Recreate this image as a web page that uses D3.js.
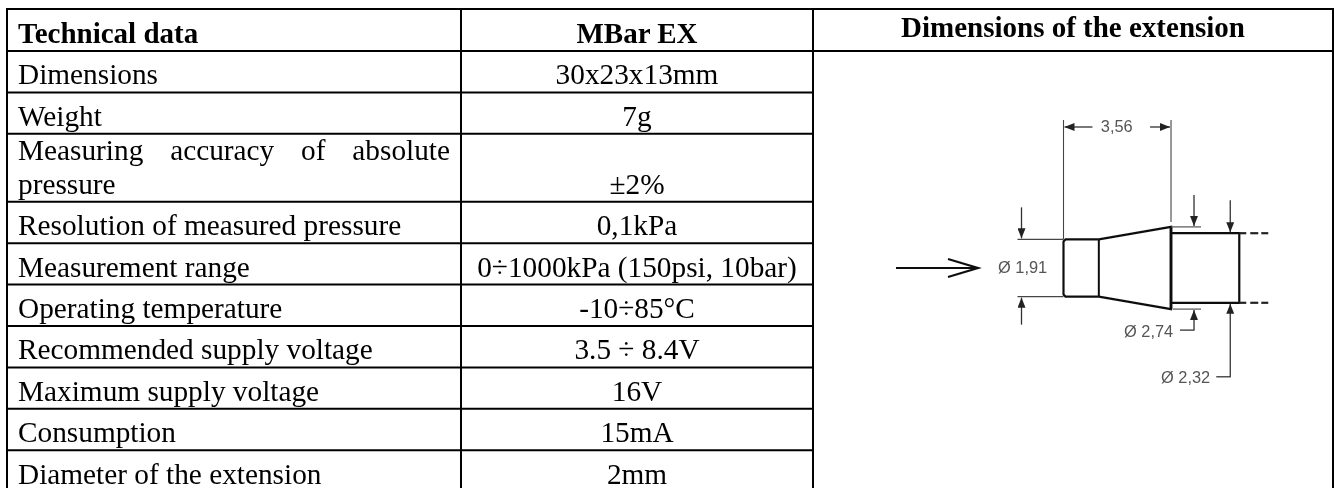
<!DOCTYPE html>
<html>
<head>
<meta charset="utf-8">
<script src="https://cdn.jsdelivr.net/npm/d3@7"></script>
<style>
html, body { margin: 0; padding: 0; background: #fff; overflow: hidden; }
svg { display: block; }
text { font-family: "Liberation Serif", serif; fill: #000; }
.dim { font-family: "Liberation Sans", sans-serif; font-size: 16.4px; fill: #555; }
</style>
</head>
<body>
<div id="chart"></div>
<script>
// table content
var headers = ["Technical data", "MBar EX", "Dimensions of the extension"];
var labels = ["Dimensions", "Weight", "Measuring accuracy of absolute|pressure",
    "Resolution of measured pressure", "Measurement range", "Operating temperature",
    "Recommended supply voltage", "Maximum supply voltage", "Consumption", "Diameter of the extension"];
var values = ["30x23x13mm", "7g", "±2%", "0,1kPa", "0÷1000kPa (150psi, 10bar)", "-10÷85°C",
    "3.5 ÷ 8.4V", "16V", "15mA", "2mm"];

// drawing dimensions, mm
var tipDiameter = 1.91;
var coneDiameter = 2.74;
var barrelDiameter = 2.32;
var coneLength = 3.56;
var tipLength = 1.17;
var barrelEnd = 5.82;

var width = 1334, height = 488;
var left = 7, col1 = 461, col2 = 813, right = 1333, top0 = 9;
var fontSize = 29.3, headSize = 29, lineH = 34;

var svg = d3.select("#chart").append("svg").attr("width", width).attr("height", height);

var defs = svg.append("defs");
defs.append("filter").attr("id", "soft").append("feGaussianBlur").attr("stdDeviation", 0.45);
defs.append("filter").attr("id", "softer").append("feGaussianBlur").attr("stdDeviation", 0.25);
defs.append("marker").attr("id", "head").attr("viewBox", "0 0 10 8").attr("refX", 10).attr("refY", 4)
    .attr("markerUnits", "userSpaceOnUse").attr("markerWidth", 10).attr("markerHeight", 8)
    .attr("orient", "auto")
    .append("path").attr("d", "M0,0L10,4L0,8Z").attr("fill", "#222");

// row bottoms
var rowY = [top0 + 42];
labels.forEach(function(l) {
    var n = l.split("|").length;
    rowY.push(rowY[rowY.length - 1] + (n == 2 ? 68 : 41.4));
});

var table = svg.append("g").attr("filter", "url(#softer)");
function line(g, x1, y1, x2, y2, w, c) {
    return g.append("line").attr("x1", x1).attr("y1", y1).attr("x2", x2).attr("y2", y2)
        .attr("stroke", c || "#000").attr("stroke-width", w);
}

// grid
line(table, left - 1, top0, right + 1, top0, 2);
line(table, left - 1, rowY[0], right + 1, rowY[0], 2);
table.selectAll("line.row").data(rowY.slice(1)).enter().append("line").attr("class", "row")
    .attr("x1", left).attr("x2", col2).attr("y1", function(d) { return d; }).attr("y2", function(d) { return d; })
    .attr("stroke", "#000").attr("stroke-width", 2);
[left, col1, col2, right].forEach(function(x) { line(table, x, top0, x, height + 5, 2); });

// header
var headerX = [18, (col1 + col2) / 2, (col2 + right) / 2];
var headerBase = [rowY[0] - 8, rowY[0] - 8, rowY[0] - 14];
table.selectAll("text.head").data(headers).enter().append("text").attr("class", "head")
    .attr("x", function(d, i) { return headerX[i]; })
    .attr("y", function(d, i) { return headerBase[i]; })
    .attr("text-anchor", function(d, i) { return i == 0 ? "start" : "middle"; })
    .attr("font-size", headSize).attr("font-weight", "bold")
    .text(function(d) { return d; });

// labels, the two line one is justified
labels.forEach(function(l, i) {
    var parts = l.split("|");
    parts.forEach(function(p, j) {
        var t = table.append("text").attr("x", 18)
            .attr("y", rowY[i + 1] - 8 - (parts.length - 1 - j) * lineH)
            .attr("font-size", fontSize).text(p);
        if (parts.length > 1 && j == 0) {
            var gaps = p.split(" ").length - 1;
            t.attr("word-spacing", (450 - 18 - t.node().getComputedTextLength()) / gaps);
        }
    });
});

table.selectAll("text.val").data(values).enter().append("text").attr("class", "val")
    .attr("x", (col1 + col2) / 2)
    .attr("y", function(d, i) { return rowY[i + 1] - 8; })
    .attr("text-anchor", "middle").attr("font-size", fontSize)
    .text(function(d) { return d; });

// extension drawing
var xMm = d3.scaleLinear().domain([0, 1]).range([1063.5, 1093.7]);
var yMm = d3.scaleLinear().domain([0, 1]).range([268, 238]);

var draw = svg.append("g").attr("filter", "url(#soft)");

function arrow(x1, y1, x2, y2) {
    return line(draw, x1, y1, x2, y2, 1.3, "#333").attr("marker-end", "url(#head)");
}
function dimText(s, x, y, anchor) {
    return draw.append("text").attr("class", "dim").attr("x", x).attr("y", y)
        .attr("text-anchor", anchor || "start").text(s);
}
var fmt = function(v) { return "Ø " + v.toFixed(2).replace(".", ","); };

var tipTop = yMm(tipDiameter / 2), tipBot = yMm(-tipDiameter / 2);
var coneTop = yMm(coneDiameter / 2), coneBot = yMm(-coneDiameter / 2);
var barTop = yMm(barrelDiameter / 2), barBot = yMm(-barrelDiameter / 2);
var x0 = xMm(0), xStep = xMm(tipLength), xCone = xMm(coneLength), xEnd = xMm(barrelEnd);

// body
var body = d3.line();
var outline = function(pts, w) {
    draw.append("path").attr("d", body(pts)).attr("fill", "none").attr("stroke", "#111").attr("stroke-width", w);
};
outline([[xStep, tipTop], [x0 + 2, tipTop], [x0, tipTop + 2], [x0, tipBot - 2], [x0 + 2, tipBot], [xStep, tipBot]], 2.2);
outline([[xStep, tipTop], [xStep, tipBot]], 2);
outline([[xStep, tipTop], [xCone, coneTop], [xCone, coneBot], [xStep, tipBot]], 2.2);
outline([[xCone, coneTop], [xCone, coneBot]], 2.8);
outline([[xCone, barTop], [xEnd, barTop], [xEnd, barBot], [xCone, barBot]], 2.2);

// barrel continues as dashes
[barTop, barBot].forEach(function(y) {
    line(draw, xEnd, y, xEnd + 7, y, 2.2, "#222");
    line(draw, xEnd + 11, y, xEnd + 19, y, 2.2, "#222");
    line(draw, xEnd + 22, y, xEnd + 29, y, 2.2, "#222");
});

// 3,56 length
line(draw, x0, 120, x0, tipTop, 1.1, "#444");
line(draw, xCone, 120, xCone, coneTop - 5, 1.1, "#444");
arrow(x0 + 29, 127, x0 + 1, 127);
arrow(xCone - 21, 127, xCone - 1, 127);
dimText(coneLength.toFixed(2).replace(".", ","), (x0 + xCone) / 2 - 0.5, 132, "middle");

// big flow arrow
var flowY = yMm(0);
outline([[896, flowY], [977, flowY]], 2.2);
outline([[948, flowY - 9], [978, flowY], [948, flowY + 9]], 2.2);

// tip diameter
line(draw, x0 - 46, tipTop, x0, tipTop, 1.1, "#444");
line(draw, x0 - 46, tipBot, x0, tipBot, 1.1, "#444");
arrow(x0 - 42, tipTop - 32, x0 - 42, tipTop - 1);
arrow(x0 - 42, tipBot + 28, x0 - 42, tipBot + 1);
dimText(fmt(tipDiameter), 998, 273);

// cone diameter
line(draw, xCone, coneTop, xCone + 30, coneTop, 1.1, "#444");
line(draw, xCone + 2, coneBot, xCone + 30, coneBot, 1.1, "#444");
arrow(xCone + 23, coneTop - 32, xCone + 23, coneTop - 1);
arrow(xCone + 23, coneBot + 21, xCone + 23, coneBot + 1);
line(draw, xCone + 23.5, coneBot + 21, xCone + 9, coneBot + 21, 1.3, "#333");
dimText(fmt(coneDiameter), 1124, 337);

// barrel diameter
arrow(xEnd - 9, barTop - 33, xEnd - 9, barTop - 1);
arrow(xEnd - 9, barBot + 74, xEnd - 9, barBot + 1);
line(draw, xEnd - 8.5, barBot + 74, xEnd - 23, barBot + 74, 1.3, "#333");
dimText(fmt(barrelDiameter), 1161, 383);
</script>
</body>
</html>
